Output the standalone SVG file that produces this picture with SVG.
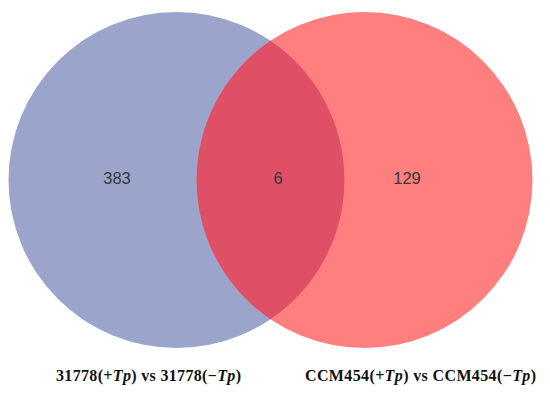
<svg xmlns="http://www.w3.org/2000/svg" width="550" height="395" viewBox="0 0 550 395">
<style>
.num{font-family:"Liberation Sans",Arial,sans-serif;font-size:16.5px;fill:#383838;text-anchor:middle}
.lab{font-family:"Liberation Serif","Times New Roman",serif;font-size:16px;font-weight:bold;fill:#111}
</style>
<rect width="550" height="395" fill="#fff"/>
<g id="set-a">
<circle cx="176.5" cy="180" r="168" fill="#9ba5cb"/>
</g>
<g id="set-b">
<circle cx="364.5" cy="180" r="168" fill="#ff7f7f"/>
</g>
<g id="overlap">
<path d="M270.5,40.8 A168,168 0 0 1 270.5,319.2 A168,168 0 0 1 270.5,40.8 Z" fill="#df5066"/>
</g>
<g id="labels">
<text class="num" x="117" y="184">383</text>
<text class="num" x="278" y="184">6</text>
<text class="num" x="407" y="184">129</text>
<text class="lab" x="56" y="381" textLength="185" lengthAdjust="spacing">31778(+<tspan font-style="italic">Tp</tspan>) vs 31778(−<tspan font-style="italic">Tp</tspan>)</text>
<text class="lab" x="305" y="381" textLength="231" lengthAdjust="spacing">CCM454(+<tspan font-style="italic">Tp</tspan>) vs CCM454(−<tspan font-style="italic">Tp</tspan>)</text>
</g>
</svg>
